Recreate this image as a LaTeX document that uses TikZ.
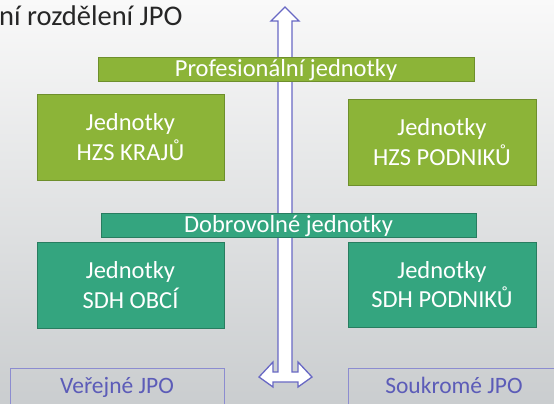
\documentclass[tikz,border=0pt]{standalone}
\usepackage{fontspec}
\setmainfont{Carlito}
\definecolor{grn}{RGB}{140,180,56}
\definecolor{grnb}{RGB}{110,143,44}
\definecolor{teal2}{RGB}{52,165,127}
\definecolor{tealb}{RGB}{40,125,96}
\definecolor{arr}{RGB}{104,104,196}
\definecolor{jpob}{RGB}{140,140,208}
\definecolor{jpot}{RGB}{92,92,184}
\definecolor{bgtop}{RGB}{249,249,249}
\definecolor{bgbot}{RGB}{202,205,207}
\tikzset{
  bar/.style={draw=#1, line width=1pt, inner sep=0pt, text=white,
    font=\fontsize{24.5}{28}\selectfont, text height=18pt, text depth=3pt},
  unitbox/.style={draw=#1, line width=1pt, inner sep=0pt, text=white, align=center,
    font=\fontsize{24.5}{29.5}\selectfont},
  jpobox/.style={draw=jpob, line width=1pt, inner sep=0pt, text=jpot,
    font=\fontsize{23.5}{26}\selectfont, text height=13pt, text depth=7pt},
}
\begin{document}
\begin{tikzpicture}[x=1pt,y=-1pt]
\shade[top color=bgtop, bottom color=bgbot] (0,0) rectangle (554,404);
\useasboundingbox (0,0) rectangle (554,404);
% title
\node[anchor=base west, inner sep=0pt, text=black!85, font=\fontsize{28.5}{32}\selectfont] (title) at (-1,26) {ní rozdělení JPO};
% big arrow
\draw[arr, line width=1.3pt, fill=white, line join=miter]
  (285,7) -- (299,21) -- (292,21) -- (292,372) -- (298,372) -- (298,362) -- (312,377)
  -- (298,387) -- (298,382) -- (273,382) -- (273,387) -- (259,377) -- (273,362)
  -- (273,372) -- (278,372) -- (278,21) -- (271,21) -- cycle;
% bars
\node[bar=grnb, fill=grn, minimum width=376pt, minimum height=23pt] (prof) at (286,69.5) {Profesionální jednotky};
\node[bar=tealb, fill=teal2, minimum width=375pt, minimum height=24pt] (dobr) at (288.5,225) {Dobrovolné jednotky};
% unit boxes
\node[unitbox=grnb, fill=grn, minimum width=187pt, minimum height=86pt] (kraj) at (130.5,137) {Jednotky\\HZS KRAJŮ};
\node[unitbox=grnb, fill=grn, minimum width=188pt, minimum height=86pt] (hzsp) at (442,142) {Jednotky\\HZS PODNIKŮ};
\node[unitbox=tealb, fill=teal2, minimum width=187pt, minimum height=86pt] (obci) at (130.5,285) {Jednotky\\SDH OBCÍ};
\node[unitbox=tealb, fill=teal2, minimum width=188pt, minimum height=85pt] (sdhp) at (442,284.5) {Jednotky\\SDH PODNIKŮ};
% JPO boxes
\node[jpobox, minimum width=214pt, minimum height=44pt] (ver) at (117,390) {Veřejné JPO};
\node[jpobox, minimum width=212pt, minimum height=44pt] (souk) at (454,390) {Soukromé JPO};
\end{tikzpicture}
\end{document}
